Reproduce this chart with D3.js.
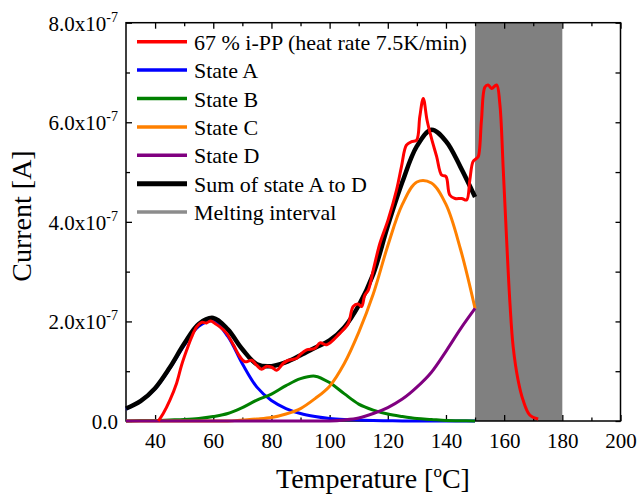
<!DOCTYPE html>
<html>
<head>
<meta charset="utf-8">
<script src="https://cdn.jsdelivr.net/npm/d3@7"></script>
<style>
  body { margin: 0; background: #fff; }
  text { font-family: "Liberation Serif", "Times New Roman", serif; fill: #000; }
</style>
</head>
<body>
<svg id="chart" width="640" height="499"></svg>
<script>
// measured data (current in units of 1e-7 A)
const redT = [41.1, 42.8, 45.1, 47.4, 49.1, 50.9, 52.6, 54.3, 56.0, 57.7, 59.1, 60.6, 62.3, 64.6, 66.9, 69.2,
  70.9, 73.2, 74.9, 76.6, 78.4, 80.1, 81.8, 84.1, 85.8, 88.7, 89.8, 92.1, 95.0, 96.7, 99.0, 103.5, 106.4,
  108.1, 109.8, 111.0, 112.1, 113.3, 115.0, 117.3, 120.1, 123.0, 124.7, 126.4, 128.2, 129.9, 131.0, 132.2,
  133.5, 135.0, 136.8, 138.5, 140.0, 141.3, 143.1, 145.4, 147.1, 148.2, 149.3, 150.4, 151.1, 152.2, 153.4,
  154.5, 155.7, 157.4, 158.5, 159.7, 160.8, 162.0, 163.1, 164.8, 166.5, 168.8, 171.7];
const redI = [0, 0.15, 0.42, 0.76, 1.12, 1.43, 1.69, 1.89, 1.98, 1.97, 2.01, 1.96, 1.89, 1.76, 1.53, 1.29,
  1.19, 1.22, 1.12, 1.04, 1.10, 1.08, 1.02, 1.16, 1.22, 1.26, 1.33, 1.43, 1.46, 1.57, 1.53, 1.76, 1.96,
  2.30, 2.35, 2.30, 2.53, 2.63, 3.03, 3.57, 4.04, 4.64, 5.11, 5.54, 5.61, 5.64, 6.11, 6.48,
  6.04, 5.68, 5.31, 4.94, 4.91, 4.54, 4.47, 4.47, 4.44, 4.84, 5.21, 5.27, 5.31, 6.04, 6.71,
  6.75, 6.68, 6.75, 6.38, 5.04, 3.70, 2.36, 1.49, 0.82, 0.42, 0.12, 0.04];

// fitted states, read every 5 degC
const fitT   = [30, 35, 40, 45, 50, 55, 60, 65, 70, 75, 80, 85, 90, 95, 100, 105, 110, 115, 120, 125, 130, 135, 140, 145, 150];
const stateA = [0.24, 0.40, 0.65, 1.05, 1.52, 1.90, 2.01, 1.70, 1.15, 0.68, 0.41, 0.25, 0.15, 0.09, 0.05, 0.03, 0.02, 0.01, 0.005, 0, 0, 0, 0, 0, 0];
const stateB = [0, 0.01, 0.01, 0.02, 0.03, 0.05, 0.09, 0.15, 0.27, 0.42, 0.54, 0.71, 0.85, 0.90, 0.77, 0.55, 0.34, 0.22, 0.14, 0.09, 0.05, 0.03, 0.01, 0.005, 0];
const stateC = [0, 0, 0, 0, 0, 0, 0, 0, 0.02, 0.04, 0.07, 0.14, 0.25, 0.45, 0.70, 1.15, 1.78, 2.55, 3.52, 4.35, 4.80, 4.78, 4.35, 3.45, 2.26];
const stateD = [0, 0, 0, 0, 0, 0, 0, 0, 0, 0, 0, 0, 0, 0, 0, 0.02, 0.06, 0.15, 0.27, 0.44, 0.68, 0.98, 1.40, 1.85, 2.26];
const sumAD  = [0.25, 0.40, 0.66, 1.07, 1.55, 1.95, 2.07, 1.84, 1.44, 1.14, 1.10, 1.18, 1.32, 1.47, 1.62, 1.88, 2.32, 2.95, 3.92, 4.80, 5.52, 5.85, 5.62, 5.10, 4.50];

const meltRange = [150, 180];
const xMajor = [40, 60, 80, 100, 120, 140, 160, 180, 200];
const xMinor = [50, 70, 90, 110, 130, 150, 170, 190];
const yMajor = [0, 2, 4, 6, 8];
const yMinor = [1, 3, 5, 7];

const legendLabels = ['67 % i-PP (heat rate 7.5K/min)', 'State A', 'State B', 'State C', 'State D', 'Sum of state A to D', 'Melting interval'];
const colors = ['#ff0000', '#0000ff', '#008000', '#ff8000', '#800080', '#000000', '#8c8c8c'];
const widths = [3, 3, 3, 3, 3, 4.5, 3];

const svg = d3.select('#chart');
const x = d3.scaleLinear().domain([30, 200]).range([126, 620.5]);
const y = d3.scaleLinear().domain([0, 8]).range([421, 22.7]);

// melting interval band
svg.append('rect')
  .attr('x', x(meltRange[0])).attr('y', y(8))
  .attr('width', x(meltRange[1]) - x(meltRange[0]))
  .attr('height', y(0) - y(8))
  .attr('fill', '#808080');

// axes (ticks inward)
function ticks(axis, tx, ty) {
  svg.append('g').attr('transform', `translate(${tx},${ty})`).call(axis)
    .call(g => g.select('.domain').remove())
    .call(g => g.selectAll('line').attr('stroke', '#000').attr('stroke-width', 1.3));
}
ticks(d3.axisBottom(x).tickValues(xMajor).tickSize(-6).tickPadding(12).tickFormat(d3.format('d')), 0, y(0));
ticks(d3.axisBottom(x).tickValues(xMinor).tickSize(-3.5).tickFormat(''), 0, y(0));
ticks(d3.axisTop(x).tickValues(xMajor).tickSize(-6).tickFormat(''), 0, y(8));
ticks(d3.axisTop(x).tickValues(xMinor).tickSize(-3.5).tickFormat(''), 0, y(8));
ticks(d3.axisLeft(y).tickValues(yMajor).tickSize(-6).tickFormat(''), x(30), 0);
ticks(d3.axisLeft(y).tickValues(yMinor).tickSize(-4).tickFormat(''), x(30), 0);
ticks(d3.axisRight(y).tickValues(yMajor).tickSize(-5).tickFormat(''), x(200), 0);
ticks(d3.axisRight(y).tickValues(yMinor).tickSize(-5).tickFormat(''), x(200), 0);

svg.selectAll('.tick text').attr('font-size', 21).attr('font-family', '"Liberation Serif", serif').attr('fill', '#000');

// y tick labels with superscript exponent
const yl = svg.append('g').selectAll('text').data(yMajor).join('text')
  .attr('x', 118).attr('y', d => y(d) + 8)
  .attr('text-anchor', 'end').attr('font-size', 21);
yl.each(function (d) {
  const t = d3.select(this);
  if (d === 0) { t.text('0.0'); return; }
  t.append('tspan').text(d3.format('.1f')(d) + 'x10');
  t.append('tspan').attr('dy', -9).attr('font-size', 14).text('-7');
});

// frame
svg.append('rect')
  .attr('x', x(30)).attr('y', y(8))
  .attr('width', x(200) - x(30)).attr('height', y(0) - y(8))
  .attr('fill', 'none').attr('stroke', '#000').attr('stroke-width', 1.5);

// curves
const line = d3.line().x(d => x(d[0])).y(d => y(d[1])).curve(d3.curveCatmullRom.alpha(0.5));
const series = [
  { v: stateA, c: 1 }, { v: stateB, c: 2 }, { v: stateC, c: 3 }, { v: stateD, c: 4 }, { v: sumAD, c: 5 }
];
series.forEach(s => {
  svg.append('path')
    .datum(fitT.map((t, i) => [t, s.v[i]]))
    .attr('d', line)
    .attr('fill', 'none')
    .attr('stroke', colors[s.c])
    .attr('stroke-width', widths[s.c])
    .attr('stroke-linejoin', 'round');
});
svg.append('path')
  .datum(redT.map((t, i) => [t, redI[i]]))
  .attr('d', line)
  .attr('fill', 'none')
  .attr('stroke', colors[0])
  .attr('stroke-width', widths[0])
  .attr('stroke-linejoin', 'round');

// legend
const lg = svg.append('g').selectAll('g').data(legendLabels).join('g')
  .attr('transform', (d, i) => `translate(137,${41.7 + i * 28.4})`);
lg.append('line').attr('x1', 0).attr('x2', 50)
  .attr('stroke', (d, i) => colors[i]).attr('stroke-width', (d, i) => widths[i] + 0.5);
lg.append('text').attr('x', 57).attr('y', 8).attr('font-size', 22).text(d => d);

// axis titles
const xt = svg.append('text').attr('x', 373).attr('y', 488)
  .attr('text-anchor', 'middle').attr('font-size', 28);
xt.append('tspan').text('Temperature [');
xt.append('tspan').attr('dy', -11).attr('font-size', 17).text('o');
xt.append('tspan').attr('dy', 11).text('C]');

svg.append('text')
  .attr('transform', 'translate(31,216) rotate(-90)')
  .attr('text-anchor', 'middle').attr('font-size', 28)
  .text('Current [A]');
</script>
</body>
</html>
